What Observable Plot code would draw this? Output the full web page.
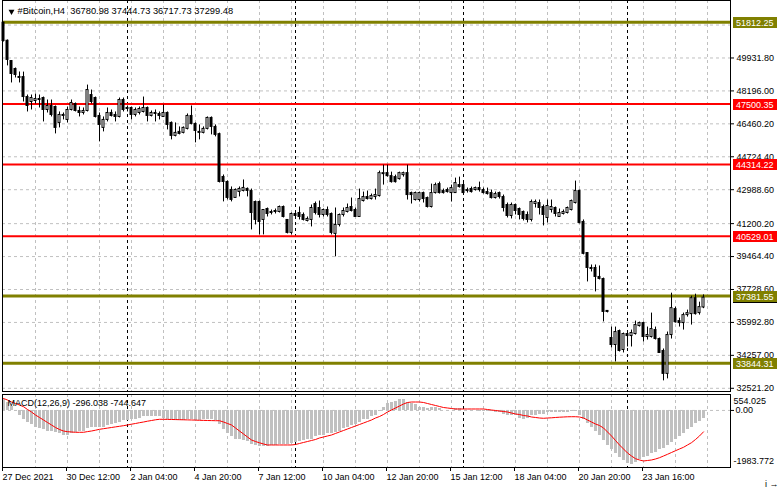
<!DOCTYPE html>
<html><head><meta charset="utf-8">
<script src="https://cdn.jsdelivr.net/npm/d3@7"></script>
<script src="https://cdn.jsdelivr.net/npm/@observablehq/plot@0.6"></script>
<style>
html,body{margin:0;padding:0;background:#fff;}
#chart{position:relative;width:781px;height:489px;overflow:hidden;background:#fff;}
#chart svg{position:absolute;left:0;}
</style></head><body><div id="chart"></div>
<script>
// ---- data (H4 bars, index 0 = first visible bar) ----
const opens = [
51790,50840,49771,49351,48879,48924,47873,47611,47663,47768,
47821,47191,47401,47348,46508,46876,46666,47191,47506,47138,
47033,47138,47978,47821,46876,46246,46666,47033,46928,46823,
47716,47296,47296,46928,47033,47086,47296,46876,47033,46981,
46823,47033,46508,45825,46035,45983,46193,46876,46456,46035,
45983,46193,46771,46298,45917,43659,43396,42976,42556,42871,
42924,43029,42917,42339,42339,41394,41971,41814,41866,41814,
42076,41394,40711,41709,41761,41656,41341,41394,42234,42024,
41656,41919,41709,40658,41131,41656,41814,42076,41919,41551,
42391,42601,42496,42601,42654,43809,43862,43704,43652,43547,
43757,43862,42811,42444,42444,42811,42549,42076,42811,43284,
42917,42969,42811,42811,43232,43232,42917,43022,42969,43074,
42969,42864,42811,42549,42811,42601,42181,41604,42181,41971,
41814,41656,41394,42234,42286,42076,41499,41919,42024,41551,
41709,41761,41919,42286,42917,41289,39650,38810,38863,38390,
38280,36599,35170,34803,35538,34540,35380,35275,35380,35801,
35958,35223,35223,35590,35118,34488,33280,35328,36694,36063,
35958,36379,36431,37271,36484,36780.98];
const highs = [
51812,50880,49771,49404,49194,49187,47978,47978,48031,47978,
47873,47716,47716,47401,47086,47033,47348,47716,47558,47348,
47296,48503,48241,47873,47033,46823,47296,47191,47086,47821,
47821,47401,47348,47296,47348,47873,47348,47138,47191,47086,
47453,47086,46561,46508,46298,46298,46981,47401,46508,46403,
46298,46823,46823,46403,45970,43764,43449,43134,43029,43134,
43501,43081,43022,42391,42391,41919,42024,41919,41971,42129,
42129,41394,41761,41761,42076,41761,41551,42181,42339,42391,
41971,42076,41761,42024,41709,42024,42234,42549,42024,43022,
42864,42917,42759,43022,43967,44283,44283,43915,43757,43915,
43915,44283,42864,42864,42864,42864,42601,43284,43337,43389,
43022,43074,43232,43599,43652,43389,43074,43127,43127,43389,
43074,43074,42969,42864,42864,42706,42286,42286,42234,42024,
41866,41814,42444,42444,42444,42181,42444,42444,42076,41971,
41919,42076,42444,43442,42969,41394,39650,39020,39020,38968,
38331,36599,35748,35748,35590,35433,35485,35590,36063,36010,
36010,35748,36484,35748,35170,34593,35485,37534,36799,36221,
36484,36641,37376,37481,37061,37444.73];
const lows = [
50774,49514,48615,48879,48615,47611,47086,47191,47506,47296,
46561,47033,46823,45930,46246,46666,46508,47138,47086,46823,
46928,47086,47506,46771,45510,46035,46561,46823,46561,46771,
47086,47086,46666,46823,46928,47033,46561,46823,46561,46666,
46823,46140,45615,45773,45878,45930,46140,46403,45458,45615,
45930,46140,45878,45773,43344,42346,42451,42346,42556,42608,
42871,42608,40868,41131,40606,40606,41551,41656,41709,41761,
41499,40658,40606,41499,41394,41341,41289,41026,41656,41499,
41551,41551,40606,39450,41026,41551,41761,41814,41551,41551,
42339,42444,42444,42444,42601,43232,43652,43337,43337,43494,
43652,42444,42234,42391,42339,42286,42024,42024,42759,42759,
42759,42811,42339,42811,43074,42759,42811,42811,42917,42864,
42759,42706,42496,42496,42496,41814,41499,41446,41656,41394,
41341,41236,41289,42024,41656,41079,41236,41761,41551,41551,
41656,41709,41866,42234,41184,39555,38127,38653,37602,38232,
36020,36494,34645,33910,34435,34383,34698,34698,35328,35748,
34960,35065,35170,35065,34383,32912,33017,35118,35958,35748,
35590,36274,35853,36379,36379,36717.73];
const closes = [
50826,49829,49089,49036,48931,47873,47401,47821,47768,47716,
47191,47401,46928,46246,46928,46928,47191,47558,47138,47033,
47138,48241,47611,46823,46403,46666,47033,46876,46823,47716,
47191,47243,46928,47191,47243,47296,46876,47033,46981,46876,
47033,46403,45825,45983,45930,46246,46876,46456,46088,45983,
46193,46771,46298,45878,43396,43396,42556,42451,42976,43029,
43081,42924,41761,41394,41289,41919,41709,41761,41814,42076,
41551,40711,41709,41604,41551,41394,41446,42024,41761,41656,
41919,41656,40711,41131,41656,41866,42024,41866,41551,42496,
42601,42496,42654,42706,43862,43862,43704,43389,43389,43862,
43862,42706,42706,42811,42811,42496,42076,42811,43232,42811,
42811,42864,43074,43337,43127,42811,42969,42864,43074,42969,
42811,42759,42549,42759,42601,42024,41604,42181,41866,41656,
41446,41394,42339,42339,42024,41656,42129,42076,41709,41761,
41814,42024,42391,42917,41236,39608,38863,38863,38390,38285,
36546,36546,34803,35485,34488,35380,35275,35433,35853,35958,
35223,35328,35643,35118,34383,33280,35328,36746,36010,35958,
36379,36484,37271,36431,36799,37299.48];

// MACD(12,26,9): main (histogram) and signal (red line)
const macdMain = [
363,293,154,-20,-159,-298,-402,-506,-576,-645,
-680,-715,-749,-784,-819,-854,-854,-819,-784,-749,
-715,-645,-610,-610,-610,-576,-541,-506,-471,-402,
-367,-367,-332,-298,-263,-228,-228,-228,-228,-228,
-263,-298,-332,-367,-367,-367,-332,-332,-367,-367,
-332,-332,-332,-367,-506,-680,-819,-923,-993,-1027,
-1062,-1097,-1201,-1236,-1271,-1271,-1271,-1236,-1236,-1201,
-1201,-1201,-1166,-1132,-1097,-1062,-1027,-993,-923,-888,
-854,-819,-819,-784,-715,-645,-610,-541,-506,-402,
-332,-298,-228,-159,-20,119,224,293,328,363,
363,293,224,189,119,85,50,85,85,50,
15,15,15,50,50,15,15,15,15,-20,
-20,-54,-54,-89,-89,-124,-159,-159,-193,-263,
-332,-263,-193,-159,-124,-124,-89,-89,-89,-89,
-89,-89,-54,-54,-193,-332,-437,-576,-715,-888,
-1062,-1236,-1375,-1514,-1653,-1757,-1862,-1896,-1827,-1723,
-1653,-1584,-1514,-1445,-1375,-1306,-1236,-1132,-1027,-923,
-819,-680,-576,-471,-384,-296.038];
const macdSignal = [
415,363,293,241,189,130,33,-54,-159,-245,
-332,-419,-506,-593,-663,-715,-739,-749,-760,-760,
-760,-736,-715,-687,-656,-635,-614,-593,-572,-551,
-530,-506,-478,-454,-426,-402,-374,-350,-325,-308,
-308,-311,-315,-318,-322,-325,-329,-332,-336,-343,
-346,-350,-353,-357,-357,-402,-454,-506,-610,-715,
-819,-923,-1027,-1080,-1125,-1166,-1201,-1201,-1201,-1201,
-1201,-1201,-1201,-1184,-1149,-1114,-1080,-1045,-1010,-958,
-923,-888,-854,-801,-749,-697,-645,-593,-541,-489,
-437,-385,-332,-263,-211,-141,-54,15,85,154,
224,276,293,293,293,276,241,206,172,137,
102,85,67,50,50,50,50,50,50,50,
50,33,15,-2,-20,-37,-54,-89,-124,-141,
-176,-193,-228,-245,-263,-273,-263,-256,-245,-235,
-228,-221,-218,-218,-228,-263,-332,-402,-471,-524,
-610,-749,-888,-1045,-1201,-1340,-1479,-1584,-1677,-1723,
-1757,-1740,-1723,-1688,-1643,-1584,-1525,-1462,-1400,-1340,
-1281,-1201,-1121,-1010,-888,-744.647];

const priceGrid = [32521.20,34257.00,35992.80,37728.60,39464.40,41200.20,42988.60,44724.40,46460.20,48196.00,49931.80,51667.60];
const priceTickLabels = [32521.20,34257.00,35992.80,37728.60,39464.40,41200.20,42988.60,44724.40,46460.20,48196.00,49931.80];
const redLevels = [47500.35,44314.22,40529.01];
const oliveLevels = [51812.25,37381.55,33844.31];
const bidPrice = 37299.48;
const timeLabels = ["27 Dec 2021","30 Dec 12:00","2 Jan 04:00","4 Jan 20:00","7 Jan 12:00","10 Jan 04:00","12 Jan 20:00","15 Jan 12:00","18 Jan 04:00","20 Jan 20:00","23 Jan 16:00"];
const timeLabelBars = [0,16,32,48,64,80,96,112,128,144,160];
const gridBars = [8,16,24,32,40,48,56,64,72,80,88,96,104,112,120,128,136,144,152,160,168,176];
const separatorBars = [31,73,115,156];
const symbolTitle = "#Bitcoin,H4  36780.98 37444.73 36717.73 37299.48";
const macdTitle = "MACD(12,26,9) -296.038 -744.647";
const macdTop = 554.025, macdBottom = -1983.772;

// ---- build ----
const bars = opens.map((o, i) => ({i, open: o, high: highs[i], low: lows[i], close: closes[i]}));
const macd = macdMain.map((m, i) => ({i, main: m, signal: macdSignal[i]}));

const font = "'Liberation Sans', Arial, sans-serif";
const baseStyle = {fontFamily: font, fontSize: "9px", background: "white", color: "black", overflow: "visible"};
const dash = "3,3";
const grey = "#c0c0c0";

// bid price box (hidden text, only its edge shows under the olive label), then level labels
const levelBoxes = [{value: bidPrice, color: "black", label: false}]
  .concat(redLevels.map(v => ({value: v, color: "#ff0000", label: true})))
  .concat(oliveLevels.map(v => ({value: v, color: "#808000", label: true})));

function levelLabelMark(index, scales, values, dimensions) {
  const g = d3.create("svg:g").attr("text-anchor", "start");
  const x0 = dimensions.width - dimensions.marginRight + 3;
  for (const b of levelBoxes) {
    const y = Math.round(scales.y(b.value));
    g.append("rect").attr("x", x0).attr("y", y - 5).attr("width", 44).attr("height", 11).attr("fill", b.color);
    if (b.label) {
      g.append("text").attr("x", x0 + 3).attr("y", y + 0.5).attr("dy", "0.35em")
        .attr("text-anchor", "start").attr("fill", "white").text(b.value.toFixed(2));
    }
  }
  return g.node();
}

const pricePlot = Plot.plot({
  width: 781, height: 393,
  marginLeft: 2, marginRight: 51, marginTop: 0, marginBottom: 2,
  x: {type: "linear", domain: [0, 176], range: [3, 707], axis: null},
  y: {type: "linear", domain: [32351.7, 52961.4], range: [391, 0]},
  color: {type: "identity"},
  style: baseStyle,
  marks: [
    Plot.ruleY(priceGrid, {stroke: grey, strokeDasharray: dash}),
    Plot.ruleX(gridBars, {stroke: grey, strokeDasharray: dash}),
    Plot.ruleX(separatorBars, {stroke: "black", strokeDasharray: dash}),
    Plot.ruleY(redLevels, {stroke: "#ff0000", strokeWidth: 2}),
    Plot.ruleY(oliveLevels, {stroke: "#808000", strokeWidth: 3}),
    Plot.ruleX(bars, {x: "i", y1: "low", y2: "high", stroke: "black"}),
    Plot.rect(bars, {x1: d => d.i - 0.25, x2: d => d.i + 0.25, y1: "open", y2: "close",
      fill: d => d.close >= d.open ? "white" : "black", stroke: "black"}),
    Plot.frame({stroke: "black"}),
    Plot.axisY(priceTickLabels, {anchor: "right", tickSize: 3, tickPadding: 3, tickFormat: d => d.toFixed(2)}),
    levelLabelMark,
    Plot.dot([0], {frameAnchor: "top-left", dx: 9, dy: 11, symbol: "triangle", r: 2.2, fill: "black", rotate: 180}),
    Plot.text([symbolTitle], {text: d => d, frameAnchor: "top-left", dx: 15, dy: 11, textAnchor: "start", lineAnchor: "middle", fill: "black", fontSize: 9.3})
  ]
});

const macdPlot = Plot.plot({
  width: 781, height: 97,
  marginLeft: 2, marginRight: 51, marginTop: 2, marginBottom: 22,
  x: {type: "linear", domain: [0, 176], range: [3, 707]},
  y: {type: "linear", domain: [macdBottom, macdTop], range: [75, 2], axis: null},
  style: baseStyle,
  marks: [
    Plot.ruleX(gridBars, {stroke: grey, strokeDasharray: dash}),
    Plot.ruleX(separatorBars, {stroke: "black", strokeDasharray: dash}),
    Plot.rect(macd, {x1: d => d.i - 0.375, x2: d => d.i + 0.375, y1: 0, y2: "main", fill: grey, shapeRendering: "crispEdges"}),
    Plot.ruleY([0], {stroke: grey, strokeDasharray: dash}),
    Plot.line(macd, {x: "i", y: "signal", stroke: "#ff0000", strokeWidth: 1}),
    Plot.frame({stroke: "black"}),
    Plot.text([macdTitle], {text: d => d, frameAnchor: "top-left", dx: 5, dy: 9, textAnchor: "start", lineAnchor: "middle", fill: "black"}),
    Plot.axisY([0], {anchor: "right", tickSize: 3, tickPadding: 2, tickFormat: d => d.toFixed(2)}),
    Plot.text([macdTop], {y: d => d, text: d => d.toFixed(3), frameAnchor: "right", dx: 3, dy: 7, textAnchor: "start", fill: "black"}),
    Plot.text([macdBottom], {y: d => d, text: d => d.toFixed(3), frameAnchor: "right", dx: 3, dy: -6, textAnchor: "start", fill: "black"}),
    Plot.axisX(timeLabelBars, {anchor: "bottom", tickSize: 4, tickPadding: 2, textAnchor: "start", dx: -1,
      tickFormat: d => timeLabels[timeLabelBars.indexOf(d)]})
  ]
});

const chart = document.getElementById("chart");
pricePlot.style.top = "0px";
macdPlot.style.top = "392px";
chart.appendChild(pricePlot);
chart.appendChild(macdPlot);
</script>
</body></html>
